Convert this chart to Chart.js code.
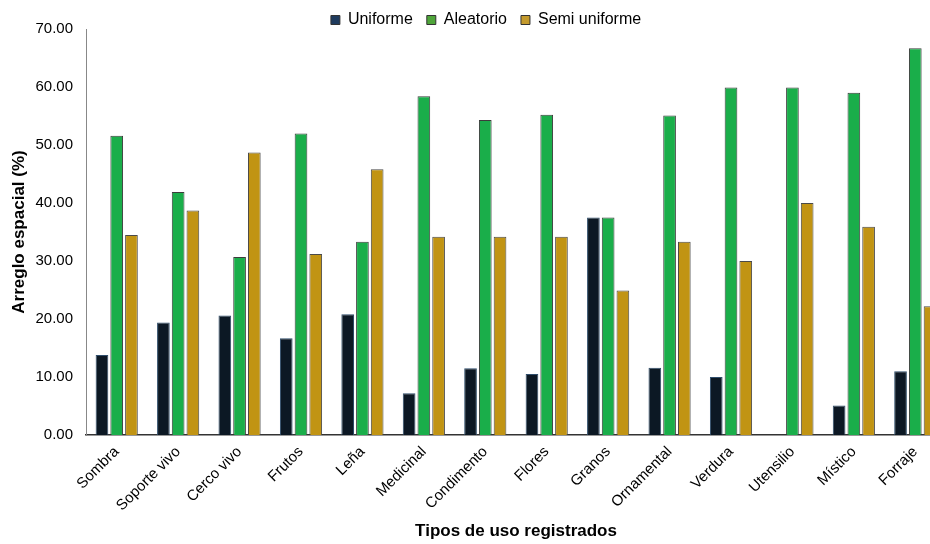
<!DOCTYPE html>
<html>
<head>
<meta charset="utf-8">
<script src="https://cdn.jsdelivr.net/npm/chart.js@4.4.0/dist/chart.umd.min.js"></script>
<style>
  html, body { margin: 0; padding: 0; background: #ffffff; overflow: hidden; }
  #wrap { position: absolute; left: 0; top: 0; width: 946px; height: 544px; }
</style>
</head>
<body>
<div id="wrap"><canvas id="c" width="946" height="544"></canvas></div>
<script>
const categories = ["Sombra", "Soporte vivo", "Cerco vivo", "Frutos", "Leña", "Medicinal", "Condimento", "Flores", "Granos", "Ornamental", "Verdura", "Utensilio", "Místico", "Forraje"];
const uniforme    = [13.8, 19.4, 20.6, 16.7, 20.8, 7.2, 11.5, 10.5, 37.5, 11.6, 10.0, 0, 5.1, 11.0];
const aleatorio   = [51.6, 41.9, 30.7, 52.0, 33.3, 58.4, 54.3, 55.2, 37.5, 55.1, 59.9, 59.9, 59.0, 66.7];
const semiUniforme = [34.5, 38.7, 48.7, 31.2, 45.8, 34.2, 34.2, 34.2, 24.9, 33.3, 30.0, 40.0, 35.9, 22.2];
const seriesNames = ["Uniforme", "Aleatorio", "Semi uniforme"];
const legendSwatches = ['#1f3b5e', '#4fa53a', '#c49a2c'];
const yTicks = [0, 10, 20, 30, 40, 50, 60, 70];

const FONT = "'Liberation Sans', Arial, sans-serif";
const LEGEND_HEIGHT = 31;
const LEGEND_SHIFT_X = 13;

const legendTweakPlugin = {
  id: 'legendTweak',
  afterInit(chart) {
    const lg = chart.legend;
    if (!lg) return;
    const origFit = lg.fit.bind(lg);
    lg.fit = function () { origFit(); this.height = LEGEND_HEIGHT; };
    const origDraw = lg.draw.bind(lg);
    lg.draw = function () {
      const ctx = chart.ctx;
      ctx.save();
      ctx.translate(LEGEND_SHIFT_X, 0);
      origDraw();
      ctx.restore();
    };
  }
};

new Chart(document.getElementById('c'), {
  type: 'bar',
  plugins: [legendTweakPlugin],
  data: {
    labels: categories,
    datasets: [
      { label: seriesNames[0], data: uniforme, backgroundColor: '#0c1824', borderColor: '#2f4d6b', borderWidth: 1 },
      { label: seriesNames[1], data: aleatorio, backgroundColor: '#1aae4a', borderColor: '#3c3c3c', borderWidth: 1 },
      { label: seriesNames[2], data: semiUniforme, backgroundColor: '#c19413', borderColor: '#4a4a4a', borderWidth: 1 }
    ]
  },
  options: {
    responsive: false,
    animation: false,
    devicePixelRatio: 1,
    categoryPercentage: 0.72,
    barPercentage: 0.86,
    layout: { padding: { left: 0, right: 0, top: -2, bottom: 2 } },
    plugins: {
      legend: {
        position: 'top',
        labels: {
          font: { family: FONT, size: 16 },
          color: '#000',
          boxWidth: 9,
          boxHeight: 9,
          padding: 14,
          generateLabels: (chart) => chart.data.datasets.map((ds, i) => ({
            text: ds.label, fillStyle: legendSwatches[i], strokeStyle: '#333', lineWidth: 1, datasetIndex: i, fontColor: '#000'
          }))
        }
      },
      tooltip: { enabled: false }
    },
    scales: {
      x: {
        afterFit: (s) => { s.height = 107; },
        grid: { display: false, drawTicks: false },
        border: { display: true, color: '#333', width: 1.5 },
        ticks: {
          font: { family: FONT, size: 15 },
          color: '#000',
          maxRotation: 45,
          minRotation: 45,
          autoSkip: false,
          padding: 8
        },
        title: {
          display: true,
          text: 'Tipos de uso registrados',
          font: { family: FONT, size: 17, weight: 'bold' },
          color: '#000',
          padding: { top: 4, bottom: 0 }
        }
      },
      y: {
        min: 0,
        max: 70,
        afterFit: (s) => { s.width = 86; },
        afterBuildTicks: (s) => { s.ticks = yTicks.map(v => ({ value: v })); },
        grid: { display: false, drawTicks: false },
        border: { display: true, color: '#888', width: 1 },
        ticks: {
          font: { family: FONT, size: 15 },
          color: '#000',
          padding: 13,
          callback: (v) => Number(v).toFixed(2)
        },
        title: {
          display: true,
          text: 'Arreglo espacial (%)',
          font: { family: FONT, size: 17, weight: 'bold' },
          color: '#000',
          padding: { top: 9, bottom: 0 }
        }
      }
    }
  }
});
</script>
</body>
</html>
